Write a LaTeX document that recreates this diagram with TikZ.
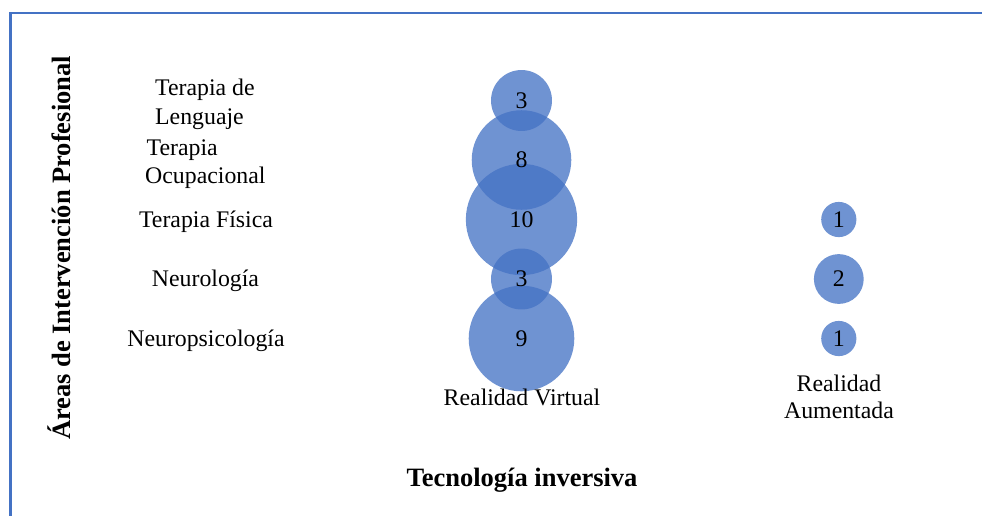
\documentclass[tikz,border=0pt]{standalone}
\usepackage{fontspec}
\setmainfont{Liberation Serif}
\definecolor{accent}{HTML}{4472C4}
\begin{document}
\begin{tikzpicture}[x=1pt,y=-1pt,
  lbl/.style={inner sep=0pt, font=\fontsize{23.8}{28}\selectfont, text height=15.7pt, text depth=0pt},
  ttl/.style={inner sep=0pt, font=\fontsize{26.5}{30}\selectfont\bfseries, text height=17.5pt, text depth=0pt},
  bubble/.style={circle, inner sep=0pt, fill=accent, fill opacity=0.77, draw=none},
  frame/.style={draw=accent, line width=2.6pt}]
\useasboundingbox (0,0) rectangle (982,515);
% chart border (top and left edges)
\draw[frame] (10.5,516) -- (10.5,12.8) -- (983,12.8);

% bubbles: radius proportional to sqrt(count)
\def\k{17.6}
\node[bubble, minimum size={2*\k*sqrt(3)}]  (v1) at (521.5,100.5) {};
\node[bubble, minimum size={2*\k*sqrt(8)}]  (v2) at (521.5,160) {};
\node[bubble, minimum size={2*\k*sqrt(10)}] (v3) at (521.5,219.5) {};
\node[bubble, minimum size={2*\k*sqrt(3)}]  (v4) at (521.5,279) {};
\node[bubble, minimum size={2*\k*sqrt(9)}]  (v5) at (521.5,338.5) {};
\node[bubble, minimum size={2*\k*sqrt(1)}]  (a3) at (838.8,219.5) {};
\node[bubble, minimum size={2*\k*sqrt(2)}]  (a4) at (838.8,279) {};
\node[bubble, minimum size={2*\k*sqrt(1)}]  (a5) at (838.8,338.5) {};

% counts
\node[lbl] (n1) at (v1.center) {3};
\node[lbl] (n2) at (v2.center) {8};
\node[lbl] (n3) at (v3.center) {10};
\node[lbl] (n4) at (v4.center) {3};
\node[lbl] (n5) at (v5.center) {9};
\node[lbl] (m3) at (a3.center) {1};
\node[lbl] (m4) at (a4.center) {2};
\node[lbl] (m5) at (a5.center) {1};

% row categories
\node[lbl, anchor=west] (r1a) at (155,88) {Terapia de};
\node[lbl, anchor=west] (r1b) at (155,116.5) {Lenguaje};
\node[lbl, anchor=west] (r2a) at (146.5,147.5) {Terapia};
\node[lbl, anchor=west] (r2b) at (145,175.5) {Ocupacional};
\node[lbl] (r3) at (206,219.5) {Terapia Física};
\node[lbl] (r4) at (205.5,279) {Neurología};
\node[lbl] (r5) at (206,338.5) {Neuropsicología};

% column categories
\node[lbl] (c1) at (522,397.5) {Realidad Virtual};
\node[lbl] (c2a) at (839,384) {Realidad};
\node[lbl] (c2b) at (839,411) {Aumentada};

% axis titles
\node[ttl] (xt) at (522,478) {Tecnología inversiva};
\node[ttl, rotate=90] (yt) at (61.5,248) {Áreas de Intervención Profesional};
\end{tikzpicture}
\end{document}
